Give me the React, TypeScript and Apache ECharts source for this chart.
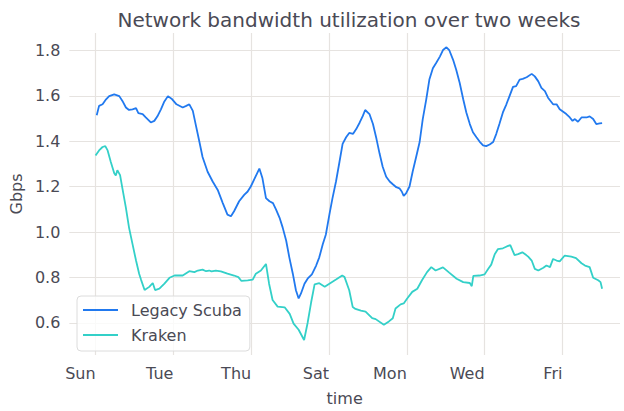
import React, { useEffect, useRef } from "react";
import * as echarts from "echarts";

// time in days since Sunday 00:00
const scubaDays = [0.03,0.09,0.18,0.27,0.35,0.48,0.61,0.69,0.78,0.86,0.95,1.04,1.10,1.21,1.29,1.42,1.51,1.59,1.68,1.76,1.86,1.97,2.08,2.24,2.33,2.41,2.50,2.58,2.67,2.75,2.88,3.01,3.14,3.27,3.39,3.48,3.56,3.69,3.82,3.91,3.99,4.09,4.21,4.29,4.38,4.47,4.56,4.64,4.73,4.81,4.90,4.98,5.07,5.15,5.22,5.28,5.37,5.45,5.56,5.67,5.75,5.84,5.92,6.01,6.09,6.18,6.27,6.35,6.44,6.52,6.62,6.70,6.79,6.87,6.93,7.04,7.13,7.22,7.30,7.38,7.47,7.56,7.64,7.73,7.81,7.87,7.92,7.98,8.07,8.15,8.24,8.33,8.41,8.50,8.58,8.67,8.75,8.85,8.93,9.02,9.09,9.19,9.27,9.36,9.45,9.53,9.62,9.70,9.79,9.87,9.96,10.04,10.13,10.22,10.30,10.38,10.47,10.56,10.64,10.73,10.81,10.90,10.98,11.08,11.21,11.29,11.38,11.46,11.55,11.63,11.76,11.85,11.93,12.02,12.10,12.19,12.26,12.32,12.40,12.49,12.62,12.70,12.79,12.87,12.96,13.02];
const scubaGbps = [1.515,1.556,1.563,1.585,1.599,1.607,1.599,1.578,1.549,1.538,1.541,1.546,1.524,1.52,1.505,1.483,1.49,1.51,1.541,1.573,1.599,1.585,1.563,1.549,1.556,1.563,1.534,1.469,1.397,1.331,1.266,1.223,1.186,1.128,1.077,1.07,1.092,1.136,1.164,1.179,1.201,1.237,1.28,1.237,1.15,1.136,1.128,1.099,1.063,1.02,0.962,0.889,0.817,0.744,0.708,0.73,0.773,0.795,0.814,0.853,0.889,0.947,0.99,1.077,1.15,1.223,1.31,1.389,1.418,1.437,1.433,1.454,1.483,1.512,1.538,1.52,1.476,1.411,1.346,1.288,1.244,1.223,1.211,1.198,1.193,1.179,1.16,1.171,1.201,1.266,1.331,1.397,1.498,1.585,1.672,1.722,1.744,1.773,1.802,1.814,1.802,1.759,1.715,1.657,1.585,1.527,1.476,1.44,1.418,1.399,1.382,1.379,1.386,1.397,1.433,1.476,1.527,1.563,1.599,1.64,1.643,1.672,1.675,1.682,1.697,1.686,1.664,1.635,1.621,1.592,1.563,1.563,1.541,1.53,1.52,1.505,1.49,1.498,1.486,1.505,1.505,1.51,1.498,1.476,1.479,1.48];

const krakenDays = [0.00,0.09,0.18,0.25,0.31,0.39,0.48,0.52,0.56,0.63,0.69,0.78,0.86,0.95,1.04,1.12,1.17,1.26,1.38,1.47,1.53,1.64,1.77,1.90,2.03,2.24,2.41,2.54,2.63,2.75,2.84,2.92,2.98,3.09,3.22,3.39,3.56,3.67,3.75,3.91,4.04,4.12,4.25,4.38,4.46,4.55,4.68,4.86,4.99,5.09,5.22,5.36,5.45,5.54,5.63,5.75,5.89,6.01,6.18,6.34,6.40,6.52,6.61,6.68,6.82,6.94,7.11,7.20,7.41,7.54,7.64,7.71,7.84,7.92,8.01,8.14,8.27,8.39,8.52,8.63,8.74,8.93,9.09,9.28,9.45,9.62,9.67,9.71,9.87,10.00,10.09,10.17,10.26,10.34,10.47,10.57,10.66,10.77,10.86,10.97,11.07,11.12,11.21,11.29,11.38,11.51,11.59,11.68,11.76,11.85,11.93,12.06,12.23,12.35,12.49,12.58,12.70,12.79,12.92,12.98,13.02];
const krakenGbps = [1.338,1.36,1.375,1.379,1.36,1.31,1.259,1.249,1.273,1.251,1.193,1.107,1.02,0.947,0.875,0.817,0.79,0.745,0.759,0.776,0.745,0.751,0.773,0.799,0.809,0.809,0.828,0.824,0.831,0.835,0.828,0.831,0.827,0.831,0.827,0.817,0.809,0.802,0.785,0.788,0.791,0.817,0.831,0.86,0.773,0.701,0.672,0.669,0.64,0.597,0.57,0.525,0.6,0.69,0.77,0.775,0.76,0.773,0.791,0.809,0.802,0.744,0.67,0.662,0.654,0.65,0.621,0.617,0.592,0.607,0.621,0.664,0.682,0.686,0.708,0.737,0.751,0.788,0.824,0.846,0.831,0.845,0.822,0.795,0.78,0.776,0.762,0.807,0.809,0.814,0.838,0.857,0.903,0.925,0.929,0.937,0.943,0.899,0.903,0.911,0.899,0.892,0.875,0.838,0.831,0.843,0.853,0.846,0.882,0.875,0.871,0.897,0.892,0.886,0.863,0.853,0.846,0.799,0.788,0.78,0.751];

const xTickDays = [0, 2, 4, 6, 8, 10, 12];
const xTickLabels = ["Sun", "Tue", "Thu", "Sat", "Mon", "Wed", "Fri"];
const yTicks = [0.6, 0.8, 1.0, 1.2, 1.4, 1.6, 1.8];

const seriesNames = ["Legacy Scuba", "Kraken"];
const seriesColors = ["#2179ef", "#33d0c8"];

const TEXT = "#4a4a55";
const GRID = "#e6e3e0";
const FONT = "DejaVu Sans";

export default function App() {
  const ref = useRef<HTMLDivElement>(null);
  useEffect(() => {
    if (!ref.current) return;
    const chart = echarts.init(ref.current, undefined, { renderer: "svg" });
    const pairs = (t: number[], v: number[]) => t.map((d, i) => [d, v[i]]);
    chart.setOption({
      animation: false,
      backgroundColor: "#ffffff",
      textStyle: { fontFamily: FONT },
      title: {
        text: "Network bandwidth utilization over two weeks",
        left: 344,
        textAlign: "center",
        top: 5,
        textStyle: { fontFamily: FONT, fontSize: 20, fontWeight: "normal", color: TEXT },
      },
      grid: { left: 68, top: 33, width: 552, height: 326 },
      legend: {
        orient: "vertical",
        left: 77,
        top: 296,
        data: seriesNames,
        icon: "path://M0 0H35V2H0Z",
        itemWidth: 35,
        itemHeight: 16,
        itemGap: 9,
        padding: [6, 8, 8, 6],
        backgroundColor: "rgba(255,255,255,0.8)",
        borderColor: "#dcdcdc",
        borderWidth: 1,
        borderRadius: 4,
        textStyle: { fontFamily: FONT, fontSize: 16, color: TEXT, padding: [0, 0, 0, 8] },
      },
      xAxis: {
        type: "value",
        min: -0.674,
        max: 13.48,
        name: "time",
        nameLocation: "middle",
        nameGap: 35,
        nameTextStyle: { fontFamily: FONT, fontSize: 16, color: TEXT },
        axisLine: { show: false },
        axisTick: { show: false, customValues: xTickDays },
        axisLabel: {
          customValues: xTickDays,
          formatter: (v: number) => xTickLabels[xTickDays.indexOf(Math.round(v))] ?? "",
          align: "right",
          margin: 10,
          fontFamily: FONT,
          fontSize: 16,
          color: TEXT,
        },
        splitLine: { show: true, lineStyle: { color: GRID, width: 1.2 } },
      },
      yAxis: {
        type: "value",
        min: 0.459,
        max: 1.877,
        name: "Gbps",
        nameLocation: "middle",
        nameGap: 44,
        nameTextStyle: { fontFamily: FONT, fontSize: 16, color: TEXT },
        axisLine: { show: false },
        axisTick: { show: false, customValues: yTicks },
        axisLabel: {
          customValues: yTicks,
          formatter: (v: number) => v.toFixed(1),
          margin: 9,
          fontFamily: FONT,
          fontSize: 16,
          color: TEXT,
        },
        splitLine: { show: true, lineStyle: { color: GRID, width: 1.2 } },
      },
      series: [
        {
          name: seriesNames[0],
          type: "line",
          data: pairs(scubaDays, scubaGbps),
          showSymbol: false,
          symbol: "none",
          color: seriesColors[0],
          lineStyle: { color: seriesColors[0], width: 1.8 },
        },
        {
          name: seriesNames[1],
          type: "line",
          data: pairs(krakenDays, krakenGbps),
          showSymbol: false,
          symbol: "none",
          color: seriesColors[1],
          lineStyle: { color: seriesColors[1], width: 1.8 },
        },
      ],
    });
    return () => chart.dispose();
  }, []);
  return (
    <div
      ref={ref}
      style={{ position: "fixed", left: 0, top: 0, width: 624, height: 411, background: "#fff" }}
    />
  );
}
